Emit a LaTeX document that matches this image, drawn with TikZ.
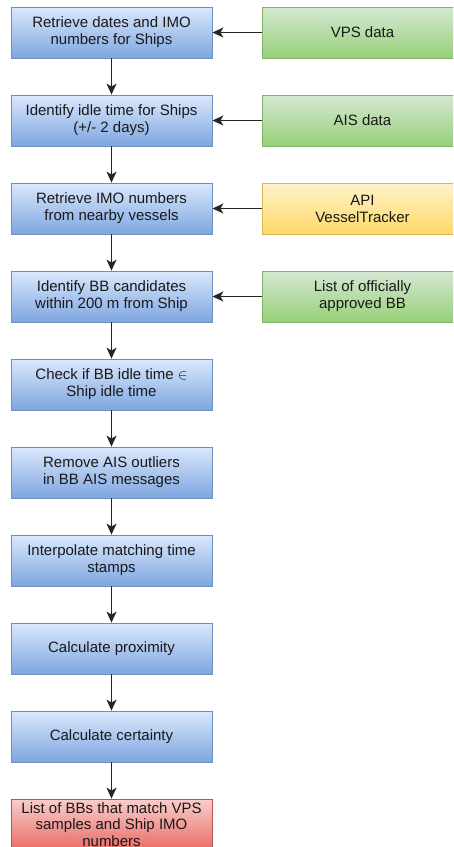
\documentclass[tikz,border=0pt]{standalone}
\usepackage{fontspec}
\setmainfont{Liberation Sans}
\usepackage{xcolor}
\usetikzlibrary{shapes,arrows.meta,positioning,calc}
\definecolor{bluetop}{HTML}{DAE8FC}
\definecolor{bluebot}{HTML}{7EA6E0}
\definecolor{blueline}{HTML}{6C8EBF}
\definecolor{greentop}{HTML}{D5E8D4}
\definecolor{greenbot}{HTML}{97D077}
\definecolor{greenline}{HTML}{82B366}
\definecolor{yellowtop}{HTML}{FFF2CC}
\definecolor{yellowbot}{HTML}{FFD966}
\definecolor{yellowline}{HTML}{D6B656}
\definecolor{redtop}{HTML}{F8CECC}
\definecolor{redbot}{HTML}{EA6B66}
\definecolor{redline}{HTML}{B85450}
\tikzset{
block/.style = {draw=blueline, line width=0.8pt, top color=bluetop, bottom color=bluebot, rectangle, minimum height=51pt, minimum width=201pt, align=center, inner sep=0pt, text=black!90, font=\fontsize{15}{17}\selectfont},
datablock/.style = {block, draw=greenline, top color=greentop, bottom color=greenbot},
apiblock/.style = {block, draw=yellowline, top color=yellowtop, bottom color=yellowbot},
resultblock/.style = {block, draw=redline, top color=redtop, bottom color=redbot, font=\fontsize{15}{16.5}\selectfont},
flow/.style = {->, line width=1.4pt, black!85}
}
\begin{document}
\begin{tikzpicture}[node distance=88pt, >={Stealth[length=11pt,width=10pt,inset=3pt]}]
    \clip (0,0) rectangle (453pt,-847pt);
    \node [block] (dates) at (111.5pt,-32.5pt) {Retrieve dates and IMO\\numbers for Ships};
    \node [block, below of=dates] (idle) {Identify idle time for Ships\\(+/- 2 days)};
    \draw [flow] (dates) -- (idle);
    \node [block, below of=idle] (imo) {Retrieve IMO numbers\\from nearby vessels};
    \draw [flow] (idle) -- (imo);
    \node [block, below of=imo] (cand) {Identify BB candidates\\within 200 m from Ship};
    \draw [flow] (imo) -- (cand);
    \node [block, below of=cand] (check) {Check if BB idle time $\in$\\Ship idle time};
    \draw [flow] (cand) -- (check);
    \node [block, below of=check] (outl) {Remove AIS outliers\\in BB AIS messages};
    \draw [flow] (check) -- (outl);
    \node [block, below of=outl] (interp) {Interpolate matching time\\stamps};
    \draw [flow] (outl) -- (interp);
    \node [block, below of=interp] (prox) {Calculate proximity};
    \draw [flow] (interp) -- (prox);
    \node [block, below of=prox] (cert) {Calculate certainty};
    \draw [flow] (prox) -- (cert);
    \node [resultblock, below of=cert] (list) {List of BBs that match VPS\\samples and Ship IMO\\numbers};
    \draw [flow] (cert) -- (list);
    % data sources
    \node [datablock, right of=dates, node distance=251pt] (vps) {VPS data};
    \draw [flow] (vps) -- (dates);
    \node [datablock, right of=idle, node distance=251pt] (ais) {AIS data};
    \draw [flow] (ais) -- (idle);
    \node [apiblock, right of=imo, node distance=251pt] (api) {API\\VesselTracker};
    \draw [flow] (api) -- (imo);
    \node [datablock, right of=cand, node distance=251pt] (appr) {List of officially\\approved BB};
    \draw [flow] (appr) -- (cand);
\end{tikzpicture}
\end{document}
